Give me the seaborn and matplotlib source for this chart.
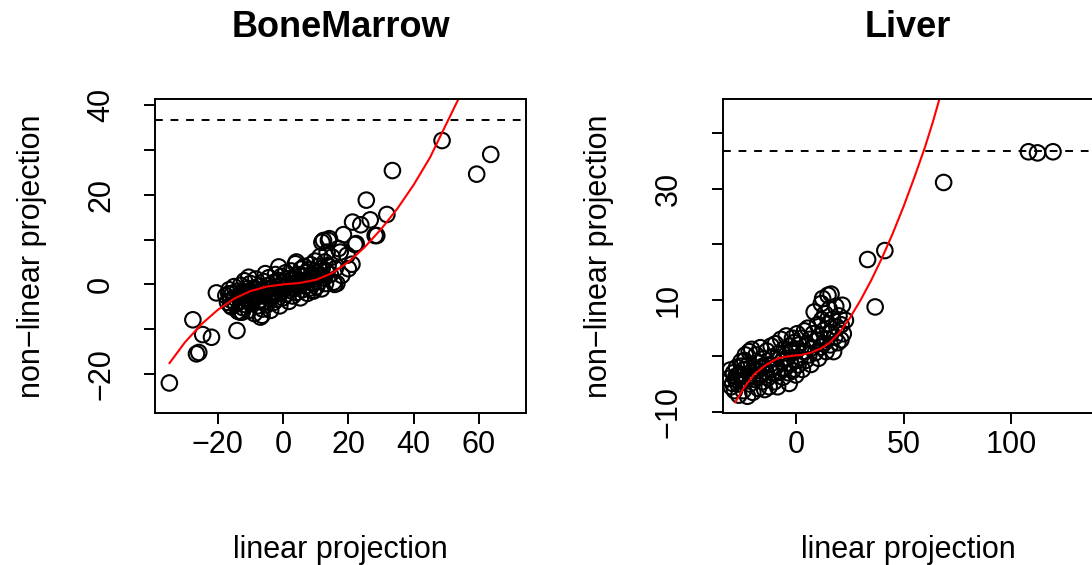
import matplotlib
matplotlib.use("Agg")
import matplotlib.pyplot as plt
import seaborn as sns
import pandas as pd

# ---------------- data ----------------
bm_x = [-17.5, -17.0, -16.6, -16.5, -16.1, -16.0, -15.8, -15.5, -15.0, -14.8, -14.5, -14.0,
        -13.8, -13.5, -13.1, -13.0, -13.0, -12.5, -12.5, -12.3, -12.0, -11.8, -11.5, -11.2,
        -11.0, -10.8, -10.5, -10.5, -10.2, -10.0, -9.8, -9.5, -9.3, -9.0, -8.8, -8.5, -8.3,
        -8.0, -7.8, -7.5, -7.3, -7.0, -6.9, -6.5, -6.4, -6.3, -6.0, -5.8, -5.5, -5.4, -5.3,
        -5.0, -4.8, -4.5, -4.3, -4.0, -3.8, -3.5, -3.3, -3.0, -2.8, -2.5, -2.3, -2.0, -1.8,
        -1.5, -1.3, -1.3, -1.0, -0.8, -0.5, -0.3, 0.0, 0.3, 0.5, 0.8, 1.0, 1.3, 1.5, 1.8,
        2.0, 2.3, 2.5, 2.8, 3.0, 3.3, 3.5, 3.8, 4.0, 4.1, 4.3, 4.5, 4.8, 5.0, 5.3, 5.5, 5.8,
        6.0, 6.3, 6.5, 6.8, 7.0, 7.3, 7.5, 7.8, 8.0, 8.3, 8.5, 8.8, 9.0, 9.3, 9.4, 9.5, 9.8,
        10.0, 10.3, 10.5, 10.8, 11.0, 11.3, 11.5, 11.8, 11.9, 12.0, 12.4, 12.5, 12.8, 13.0,
        13.3, 13.5, 13.8, 13.9, 14.2, 14.5, 15.0, 15.5, 15.8, 16.0, 16.5, 17.0, 17.5, 18.0,
        18.5, 19.6, 20.0, 21.1, 21.3, 22.0, 22.4, 23.8, 25.5, 26.7, 28.2, 28.7, 31.8, 33.5,
        48.7, 59.3, 63.6, -20.4, -14.1, -21.9, -24.6, -25.8, -26.5, -27.6, -34.8]
bm_y = [-2.5, -4.0, -2.1, -1.2, -4.7, -3.5, -5.0, -2.0, -0.5, -3.0, -4.5, -1.5,
        -6.0, -2.8, -6.2, -0.2, -3.8, -1.8, -6.2, -5.2, -2.5, 0.8, -3.2, -4.6,
        -1.0, -2.2, -5.8, 1.6, -3.6, 0.2, -1.6, -4.2, -2.8, -0.8, -6.5, -3.0, 1.2,
        -1.9, -4.8, -2.4, -0.4, -3.5, -7.3, -1.2, -6.9, -5.5, -2.6, 0.6, -3.9, 2.4, -1.7,
        -4.6, -0.3, -2.2, 1.5, -3.1, -5.8, -1.0, -2.7, 0.4, -4.0, -1.8, 2.2, -0.6, -3.3,
        0.9, -2.1, 3.9, -4.8, -0.2, 1.8, -1.5, -3.0, 0.5, -0.8, 2.6, -2.2, 1.2, -0.3, -3.8,
        0.8, -1.4, 3.0, 0.1, -2.6, 1.6, -0.7, 4.6, 0.4, 5.0, -1.8, 2.2, -0.1, 1.0, -3.0, 3.4, 0.6,
        -1.2, 1.9, 4.0, -0.4, 2.6, 0.9, -2.0, 3.3, 1.4, -0.8, 4.4, 2.0, 0.2, -1.5, -1.3, 3.0, 5.2,
        1.2, -0.5, 2.6, 4.0, 0.6, 6.2, 2.0, -1.0, 9.4, 3.6, 9.8, 1.4, 5.0, 0.2,
        2.8, 7.2, 4.2, 9.8, 10.2, 2.2, 6.1, 0.5, 0.0, 3.5, 0.2, 8.0, 7.2, 2.0,
        11.1, 6.5, 3.5, 4.5, 13.9, 8.9, 9.1, 13.3, 18.8, 14.4, 10.9, 10.9, 15.6, 25.4,
        32.1, 24.6, 29.0, -1.9, -10.3, -11.8, -11.2, -15.2, -15.5, -7.9, -22.0]

bm_curve_x = [-34.8, -30.0, -25.0, -20.0, -15.0, -10.0, -5.0, 0.0, 5.0, 10.0, 15.0, 20.0,
              25.0, 30.0, 35.0, 40.0, 45.0, 50.0, 55.0]
bm_curve_y = [-17.6, -12.9, -8.9, -5.7, -3.2, -1.5, -0.5, 0.0, 0.3, 1.0, 2.5, 5.0,
              8.3, 12.3, 16.9, 22.2, 28.3, 35.8, 43.3]

lv_x = [-31.0, -30.5, -30.0, -29.4, -29.0, -28.5, -28.0, -27.5, -27.0, -26.5, -26.0, -25.5,
        -25.0, -24.5, -24.0, -23.5, -23.0, -22.5, -22.0, -21.7, -21.5, -21.0, -20.5, -20.0,
        -19.5, -19.0, -18.5, -18.0, -17.5, -17.0, -16.5, -16.0, -15.5, -15.0, -14.5, -14.0,
        -13.5, -13.0, -12.4, -12.0, -11.5, -11.0, -10.5, -10.0, -9.5, -9.0, -8.5, -8.0, -7.5,
        -7.0, -6.5, -6.0, -5.5, -5.0, -4.5, -4.0, -3.5, -3.1, -3.0, -2.5, -2.0, -1.6, -1.5,
        -1.0, -0.5, 0.0, 0.3, 0.6, 1.0, 1.5, 2.0, 2.5, 3.0, 3.5, 4.0, 4.5, 5.0, 5.5, 6.0,
        6.5, 7.0, 7.5, 8.0, 8.5, 9.0, 9.5, 10.0, 10.5, 11.0, 11.5, 11.8, 12.0, 12.4, 12.8,
        13.0, 13.5, 14.0, 14.5, 14.9, 15.0, 15.5, 16.0, 16.3, 16.5, 17.0, 17.5, 18.0, 18.5,
        19.0, 19.5, 20.0, 20.9, 21.0, 21.6, 22.0, 23.0, -27.8, -25.2, -23.8, -19.8, -17.8,
        -15.2, -11.8, -8.8, -5.8, -2.2, 33.3, 41.3, 36.8, 68.6, 108.0, 112.2, 119.4]
lv_y = [-4.0, -2.5, -5.5, -4.9, -3.0, -6.2, -4.2, -2.0, -5.0, -7.0, -3.2, -1.0,
        -4.5, -6.2, -2.4, 0.2, -3.8, -7.2, -1.5, 0.8, -5.0, -3.0, 1.2, -6.5,
        -2.2, -4.2, 0.2, -1.2, -5.8, -3.3, 1.5, -2.0, -4.6, -0.5, -6.0, -2.8,
        0.9, -3.9, -5.5, -1.5, 1.8, -3.0, -0.2, -4.6, 2.2, -1.8, -5.5, 0.5, -2.8,
        3.0, -1.0, -3.8, 1.2, -2.2, 3.6, -0.4, -3.0, -4.9, 1.8, -1.4, 0.6, 3.2, -2.6,
        2.4, -0.8, -3.4, 1.0, 4.0, -1.6, 2.0, -0.3, 3.2, -2.4, 0.8, 4.5, -0.8, 2.0, 5.0, 0.2,
        3.0, -1.5, 1.5, 4.0, 7.9, 0.6, 2.8, 5.6, -0.4, 3.6, 1.6, 9.4, 6.5, 10.3, 2.2,
        4.6, 7.6, 0.8, 3.0, 10.9, 5.8, 8.4, 2.0, 11.1, 4.2, 6.6, 0.8, 3.4, 8.9,
        5.2, 2.4, 7.2, 2.9, 5.6, 9.1, 4.0, 6.4, -3.6, -1.8, -0.8, -3.6, -2.6,
        -1.8, -2.4, -3.0, -0.6, 1.0, 17.3, 18.9, 8.8, 31.1, 36.6, 36.4, 36.6]

lv_curve_x = [-28.2, -24.0, -19.2, -14.0, -8.4, -3.0, 2.5, 7.0, 11.8, 16.0, 20.0, 25.0,
              30.0, 35.0, 40.0, 45.0, 50.0, 55.0, 60.0, 63.5, 67.5]
lv_curve_y = [-8.3, -5.6, -3.2, -1.6, -0.4, 0.0, 0.2, 0.6, 1.4, 2.5, 4.1, 6.8,
              10.0, 13.6, 17.6, 22.0, 26.8, 32.0, 37.5, 41.8, 47.2]

titles = ["BoneMarrow", "Liver"]
threshold = [36.65, 36.75]
x_ticks = [[-20, 0, 20, 40, 60], [0, 50, 100]]
y_ticks = [[-20, -10, 0, 10, 20, 30, 40], [-10, 0, 10, 20, 30, 40]]
y_shown = [[-20, 0, 20, 40], [-10, 10, 30]]
x_lims = [(-39.2, 74.4), (-34.0, 138.3)]
y_lims = [(-28.7, 41.3), (-10.2, 46.0)]

# ---------------- drawing ----------------
sns.set_theme(style="white")
plt.rcParams["font.family"] = ["Liberation Sans", "DejaVu Sans"]
plt.rcParams["axes.unicode_minus"] = True

W, H = 1092, 565
fig = plt.figure(figsize=(W / 100, H / 100), dpi=100)
ax_l = fig.add_axes([155 / W, 1 - 413 / H, 371 / W, 313.7 / H])
ax_r = fig.add_axes([722.7 / W, 1 - 413 / H, 371 / W, 313.7 / H])

panels = [
    (ax_l, bm_x, bm_y, bm_curve_x, bm_curve_y),
    (ax_r, lv_x, lv_y, lv_curve_x, lv_curve_y),
]

def fmt(v):
    return str(v).replace("-", "\u2212")

for i, (ax, px, py, cx, cy) in enumerate(panels):
    pts = pd.DataFrame({"x": px, "y": py})
    sns.scatterplot(data=pts, x="x", y="y", ax=ax, s=125, marker="o")
    coll = ax.collections[-1]
    coll.set_facecolor("none")
    coll.set_edgecolor("black")
    coll.set_linewidth(1.5)
    curve = pd.DataFrame({"x": cx, "y": cy})
    sns.lineplot(data=curve, x="x", y="y", ax=ax, color="red", lw=1.5,
                 sort=False, estimator=None)
    ax.axhline(threshold[i], color="black", lw=1.4, ls=(0, (4, 4)))

    ax.set_xticks(x_ticks[i], [fmt(v) for v in x_ticks[i]])
    ax.set_yticks(y_ticks[i], [fmt(v) if v in y_shown[i] else "" for v in y_ticks[i]])
    ax.set_xlim(*x_lims[i])
    ax.set_ylim(*y_lims[i])
    ax.tick_params(axis="both", direction="out", length=8, width=1.4,
                   labelsize=22, colors="black", left=True, bottom=True)
    ax.tick_params(axis="x", pad=4)
    ax.tick_params(axis="y", pad=20)
    for lab in ax.get_yticklabels():
        lab.set_rotation(90)
        lab.set_verticalalignment("center")
    for sp in ax.spines.values():
        sp.set_visible(True)
        sp.set_color("black")
        sp.set_linewidth(1.4)

    ax.set_xlabel("linear projection", fontsize=22, color="black")
    ax.set_ylabel("non\u2212linear projection", fontsize=22, color="black")
    ax.xaxis.set_label_coords(0.5, -0.39)
    ax.yaxis.set_label_coords(-0.292, 0.5)

    pos = ax.get_position()
    fig.text((pos.x0 + pos.x1) / 2, 1 - 37 / H, titles[i], fontsize=26,
             fontweight="bold", color="black", ha="center", va="baseline")

fig.savefig("out.png", dpi=100)
